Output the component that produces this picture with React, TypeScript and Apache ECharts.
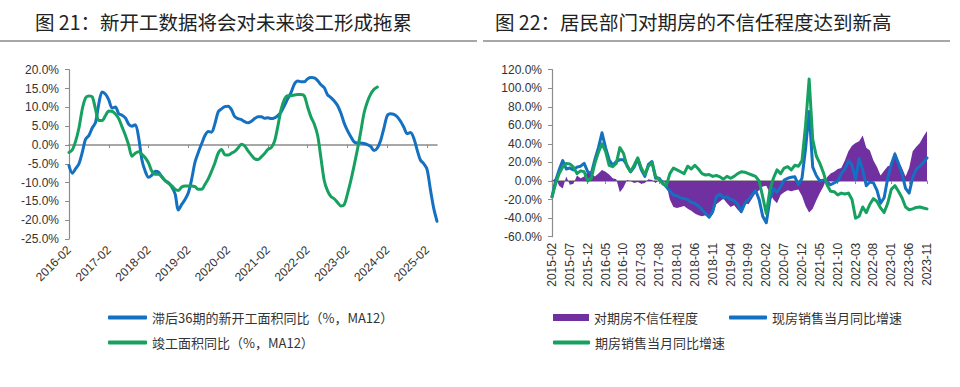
import React, { useEffect, useRef } from 'react';
import * as echarts from 'echarts';

// ---------- categories ----------
function monthRange(startYear: number, startMonth: number, count: number): string[] {
  const out: string[] = [];
  for (let i = 0; i < count; i++) {
    const t = startYear * 12 + (startMonth - 1) + i;
    const y = Math.floor(t / 12);
    const m = (t % 12) + 1;
    out.push(`${y}-${m < 10 ? '0' + m : m}`);
  }
  return out;
}
const leftMonths = monthRange(2016, 2, 112); // 2016-02 .. 2025-05
const rightMonths = monthRange(2015, 2, 106); // 2015-02 .. 2023-11

// ---------- left chart series (%) ----------
const newStartLag36 = [
  -5.5, -7.5, -6.3, -5, -2, 1.5, 2.5, 4.5, 6, 11,
  14.1, 13.5, 12, 9.8, 10.1, 8.3, 7.9, 7.2, 5.5, 5,
  5.4, 2, -4, -7, -8.6, -8, -7, -7.2, -8.5, -9.5,
  -10, -11.2, -13, -17.3, -15.8, -14.5, -12.7, -9.1, -4.6, -2,
  0.3, 2.5, 3.6, 3.4, 5.6, 8.8, 9.6, 10.2, 10.3, 9.4,
  7.5, 7, 6.7, 6.2, 5.9, 6.3, 7, 7.5, 7.5, 7.1,
  7.2, 7, 7.2, 7.8, 8.8, 10.5, 12.3, 14, 16.2, 17,
  16.8, 16.8, 17.6, 17.9, 17.8, 17.1, 16, 15.2, 13.3, 12.6,
  11.7, 10.5, 8.5, 5.8, 3.8, 2.2, 0.8, 0.5, 0.5, 0.4,
  0.1, -0.4, -1.5, -0.8, 1.2, 4.5, 7.8, 8.3, 8.1, 7.5,
  6.3, 4.7, 3, 3.3, 1.8, -1.3, -4, -5, -6.5, -11.8,
  -16.8, -20.3,
];
const completedArea = [
  -2, -1.3, 1, 4.5, 9.5, 12.5, 13, 12.8, 9.5, 6.5,
  6.5, 7.8, 9, 8.9, 8.2, 7, 4.8, 2.6, 0, -3,
  -2.2, -1.8, -2.5, -3.4, -4.8, -7, -7.8, -7.8, -8.4, -9.5,
  -10.2, -10.9, -11.8, -12.1, -11.2, -10.9, -10.9, -10.9, -11.1, -11.8,
  -11.8, -10.5, -9, -7, -4.8, -2.2, -1.2, -2.6, -2.7, -2.2,
  -1.7, -0.8, 0.2, -0.3, -1.6, -2.7, -3.7, -3.9, -3.2, -2.3,
  -1.2, -0.7, 1, 5, 9.5, 12.2, 13.1, 13.1, 13.3, 13.4,
  13.4, 13, 10, 7.4, 5.5, 2.5, -3.5, -9.5, -12.2, -13.7,
  -14.3, -15.3, -16.2, -15.9, -13, -9.5, -5.5, -1.2, 3.5, 8.5,
  11.5, 13.5, 14.8, 15.4,
];

// ---------- right chart series (%) ----------
const distrust = [
  0, 3, -5, -8, 5, -4, -3, 6, 3, 5,
  10, 8, 5, 8, 12, 10, 7, 3, 2, -12,
  -7, 1, 0, -2, -1, -3, -2, 2, 1, -2,
  1, 1, -3, -20, -28, -29, -28, -27, -30, -32,
  -35, -37, -38, -37, -40, -36, -25, -22, -19, -24,
  -28, -26, -31, -35, -24, -25, -19, -13, -10, -6,
  -5, -13, -20, -24, -15, -12, -10, -11, -10, -9,
  -16, -27, -34, -30, -21, -13, -6, 4, 8, 10,
  13, 14, 22, 32, 38, 41, 43, 49, 36, 33,
  22, 15, 6, 11, 16, 17, 32, 22, 14, 5,
  14, 32, 37, 41, 48, 54,
];
const existingSales = [
  -17, 0, 12, 22, 13, 14, 12, 15, 16, 19,
  10, 8, 23, 36, 52, 36, 23, 17, 21, 23,
  23, 17, 10, 15, 24, 12, 5, 18, 21, 3,
  3, -2, -6, -11, -15, -16, -18, -19, -20, -23,
  -24, -27, -31, -35, -39, -33, -17, -14, -18, -17,
  -20, -21, -25, -33, -24, -20, -15, -10, -20, -38,
  -45, -20, -8, -12, -6, 1, 3, 4, 4.5, -4,
  3, 35, 75, 15, 6, 0, 1, -1, -4, -2,
  0, 8, 13, 22, 17, 2, 24, 12, -5, -1,
  -2, -10, -24, -18, 3, 18, 29, 19, 8, -8,
  -13, 4, 13, 16, 20, 25,
];
const presaleSales = [
  -17, -3, 8, 15, 19, 18.5, 15, 8, 11, 10,
  0, 3, 19, 31, 40, 32, 17, 15.5, 19, 36,
  30, 16, 10, 17, 25, 14, 7, 16, 20, 5,
  2, -3, -5, 8, 14, 12, 10, 8, 16, 13,
  17, 13, 8, 6.5, 7, 5, 6, 4.5, 2, 5,
  3, 5, 8, 10, 9.5, 8, 6.5, 5, 0, -17,
  -35, -10, 3, 12, 8, 14, 15.5, 12, 17, 16,
  22, 60, 110, 45, 27, 19, 9, -4, -11, -11.5,
  -15, -13, -14, -13, -20, -40, -38, -28, -34, -25,
  -19, -22, -29, -34, -24, -9, -5, -11, -18, -28,
  -31, -30, -28.5, -28, -29, -30,
];

const BLUE = '#1470c0';
const GREEN = '#16a160';
const PURPLE = '#7030a0';
const AXIS_GRAY = '#8c8c8c';
const LABEL_COLOR = '#333';
const NUM_FONT = "'Liberation Sans', Arial, sans-serif";
const CJK_FONT = "'Noto Sans CJK SC', sans-serif";

const pct = (v: number) => v.toFixed(1) + '%';

export default function App() {
  const ref = useRef<HTMLDivElement>(null);
  useEffect(() => {
    if (!ref.current) return;
    const chart = echarts.init(ref.current, undefined, { renderer: 'svg' });
    const legendText = { fontSize: 13, color: LABEL_COLOR, fontFamily: CJK_FONT };
    const titleText = { fontSize: 19.5, fontWeight: 'normal' as const, color: '#222', fontFamily: CJK_FONT };
    const yAxisCommon = {
      type: 'value' as const,
      axisLine: { show: true, lineStyle: { color: AXIS_GRAY, width: 1.2 } },
      axisTick: { show: true, length: 4, lineStyle: { color: AXIS_GRAY } },
      splitLine: { show: false },
      axisLabel: { formatter: pct, margin: 10, fontSize: 12, color: LABEL_COLOR, fontFamily: NUM_FONT },
    };
    chart.setOption({
      animation: false,
      backgroundColor: '#ffffff',
      textStyle: { fontFamily: NUM_FONT },
      title: [
        { text: '图 21：新开工数据将会对未来竣工形成拖累', left: 30, top: 7, textStyle: titleText },
        { text: '图 22：居民部门对期房的不信任程度达到新高', left: 490, top: 7, textStyle: titleText },
      ],
      graphic: [
        { type: 'line', shape: { x1: 0, y1: 41, x2: 477, y2: 41 }, style: { stroke: '#8a8a8a', lineWidth: 1.5 } },
        { type: 'line', shape: { x1: 483, y1: 41, x2: 950, y2: 41 }, style: { stroke: '#8a8a8a', lineWidth: 1.5 } },
      ],
      grid: [
        { left: 69, top: 69.7, width: 368, height: 169.3 },
        { left: 552, top: 69.7, width: 375, height: 167 },
      ],
      xAxis: [
        {
          gridIndex: 0,
          type: 'category',
          data: leftMonths,
          boundaryGap: false,
          axisLine: { onZero: true, lineStyle: { color: AXIS_GRAY, width: 1.6 } },
          axisTick: { interval: 11, length: 3, lineStyle: { color: AXIS_GRAY } },
          axisLabel: { interval: 11, rotate: 45, margin: 9, fontSize: 12, color: LABEL_COLOR, fontFamily: NUM_FONT },
        },
        {
          gridIndex: 1,
          type: 'category',
          data: rightMonths,
          boundaryGap: false,
          axisLine: { onZero: true, lineStyle: { color: AXIS_GRAY, width: 1.6 } },
          axisTick: { interval: 4, length: 3, lineStyle: { color: AXIS_GRAY } },
          axisLabel: { interval: 4, rotate: 90, margin: 6, fontSize: 12, color: LABEL_COLOR, fontFamily: NUM_FONT },
        },
      ],
      yAxis: [
        { ...yAxisCommon, gridIndex: 0, min: -25, max: 20, interval: 5 },
        { ...yAxisCommon, gridIndex: 1, min: -60, max: 120, interval: 20 },
      ],
      legend: [
        {
          data: ['滞后36期的新开工面积同比（%，MA12）'], left: 103, top: 306,
          icon: 'roundRect', itemWidth: 39, itemHeight: 4, selectedMode: false, textStyle: legendText,
        },
        {
          data: ['竣工面积同比（%，MA12）'], left: 103, top: 331,
          icon: 'roundRect', itemWidth: 39, itemHeight: 4, selectedMode: false, textStyle: legendText,
        },
        {
          data: ['对期房不信任程度'], left: 548, top: 306,
          icon: 'rect', itemWidth: 36, itemHeight: 7, selectedMode: false, textStyle: legendText,
        },
        {
          data: ['现房销售当月同比增速'], left: 724, top: 306,
          icon: 'roundRect', itemWidth: 38, itemHeight: 4, selectedMode: false, textStyle: legendText,
        },
        {
          data: ['期房销售当月同比增速'], left: 548, top: 331,
          icon: 'roundRect', itemWidth: 37, itemHeight: 4, selectedMode: false, textStyle: legendText,
        },
      ],
      series: [
        {
          name: '滞后36期的新开工面积同比（%，MA12）', type: 'line', xAxisIndex: 0, yAxisIndex: 0,
          data: newStartLag36, showSymbol: false, smooth: 0.3,
          lineStyle: { width: 3, color: BLUE, cap: 'round', join: 'round' }, itemStyle: { color: BLUE },
        },
        {
          name: '竣工面积同比（%，MA12）', type: 'line', xAxisIndex: 0, yAxisIndex: 0,
          data: completedArea, showSymbol: false, smooth: 0.3,
          lineStyle: { width: 3, color: GREEN, cap: 'round', join: 'round' }, itemStyle: { color: GREEN },
        },
        {
          name: '对期房不信任程度', type: 'line', xAxisIndex: 1, yAxisIndex: 1,
          data: distrust, showSymbol: false,
          lineStyle: { width: 0 }, areaStyle: { color: PURPLE, opacity: 1 }, itemStyle: { color: PURPLE },
        },
        {
          name: '现房销售当月同比增速', type: 'line', xAxisIndex: 1, yAxisIndex: 1,
          data: existingSales, showSymbol: false,
          lineStyle: { width: 3, color: BLUE, cap: 'round', join: 'round' }, itemStyle: { color: BLUE },
        },
        {
          name: '期房销售当月同比增速', type: 'line', xAxisIndex: 1, yAxisIndex: 1,
          data: presaleSales, showSymbol: false,
          lineStyle: { width: 3, color: GREEN, cap: 'round', join: 'round' }, itemStyle: { color: GREEN },
        },
      ],
    });
    return () => chart.dispose();
  }, []);
  return (
    <div
      ref={ref}
      style={{ position: 'absolute', left: 0, top: 0, width: 960, height: 387, background: '#fff' }}
    />
  );
}
